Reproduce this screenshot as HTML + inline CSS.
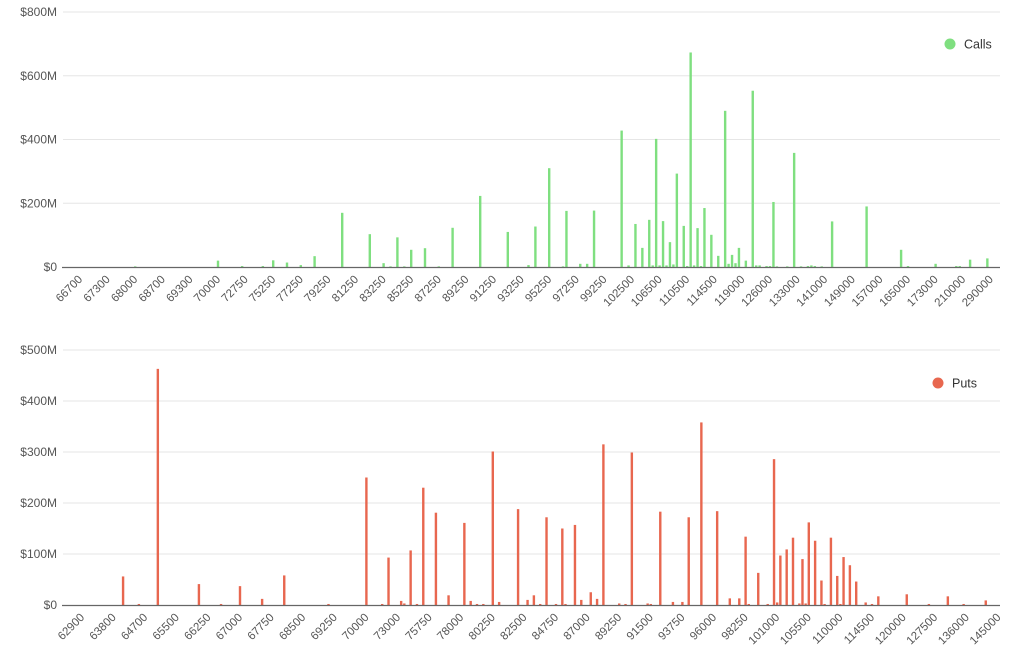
<!DOCTYPE html>
<html><head><meta charset="utf-8">
<style>
html,body{margin:0;padding:0;background:#fff;}
svg{display:block;font-family:"Liberation Sans",sans-serif;}
</style></head>
<body>
<svg id="chart" width="1024" height="660" viewBox="0 0 1024 660"></svg>
<script>
const callTickLabels=["66700","67300","68000","68700","69300","70000","72750","75250","77250","79250","81250","83250","85250","87250","89250","91250","93250","95250","97250","99250","102500","106500","110500","114500","119000","126000","133000","141000","149000","157000","165000","173000","210000","290000"];
const callStrikeIdx=[16,40,47,53,56,60,64,68,76,84,88,90,92,94,96,100,104,108,116,124,130,132,136,140,141,145,147,149,157,159,161,163,165,166,167,168,169,170,171,172,173,175,176,177,178,179,180,181,183,185,187,188,189,190,191,193,195,196,197,199,200,201,202,205,207,209,211,212,213,215,218,228,238,240,248,254,255,258,263];
const callValues=[2,20,3,3,21,14,6,34,170,103,12,2,93,2,54,59,2,123,223,110,6,127,310,2,176,10,10,177,428,5,135,60,148,5,402,5,144,5,78,8,293,129,3,673,5,122,3,185,101,35,490,10,38,12,60,20,553,5,5,3,3,204,2,2,358,2,3,5,3,2,143,190,54,3,10,3,3,23,27];
const putTickLabels=["62900","63800","64700","65500","66250","67000","67750","68500","69250","70000","73000","75750","78000","80250","82500","84750","87000","89250","91500","93750","96000","98250","101000","105500","110000","114500","120000","127500","136000","145000"];
const putStrikeIdx=[13,18,24,37,44,50,57,64,78,90,95,97,101,102,104,106,108,112,116,121,123,125,127,130,132,138,141,143,145,147,150,152,153,156,158,161,163,165,170,172,174,179,180,183,187,190,192,196,201,205,208,210,211,214,217,219,220,221,223,225,227,228,229,230,232,234,235,237,239,240,241,243,245,248,250,252,261,268,274,279,286];
const putValues=[56,2,463,41,2,37,12,58,2,250,2,93,8,3,107,2,230,181,19,161,8,2,2,301,6,188,10,19,2,172,2,150,2,157,10,25,12,315,3,2,299,3,2,183,6,6,172,358,184,13,13,134,2,63,2,286,5,97,109,132,3,90,3,162,126,48,2,132,57,2,94,78,46,5,2,17,21,2,17,2,9];
const callYTicks=[0,200,400,600,800];
const putYTicks=[0,100,200,300,400,500];

const NS="http://www.w3.org/2000/svg";
const svg=document.getElementById('chart');
function mk(tag,attrs,parent){const e=document.createElementNS(NS,tag);for(const k in attrs)e.setAttribute(k,attrs[k]);(parent||svg).appendChild(e);return e;}

function drawPanel(cfg){
  const g=mk('g',{});
  
  
  const y=v=>cfg.y0-(v/cfg.yMax)*(cfg.y0-cfg.yTop);
  const x=k=>cfg.x0+cfg.step*k;
  cfg.yTicks.forEach(t=>{
    if(t>0){const l=mk('line',{x1:63,x2:1000,y1:y(t),y2:y(t),stroke:'#e6e6e6','stroke-width':1},g);
      
      }
    const tx=mk('text',{x:57,y:y(t)+4,'text-anchor':'end','font-size':12,fill:'#555'},g);
    tx.textContent='$'+t+(t===0?'':'M');
    
    
  });
  cfg.idx.forEach((k,i)=>{
    const v=cfg.vals[i];
    const r=mk('rect',{x:x(k)-1.2,y:y(v),width:2.4,height:Math.max(0.5,cfg.y0-y(v)),fill:cfg.color},g);
    
    
  });
  const ax=mk('line',{x1:62,x2:1000,y1:cfg.y0+0.5,y2:cfg.y0+0.5,stroke:'#666','stroke-width':1.3},g);
  
  
  cfg.labels.forEach((lab,i)=>{
    const px=x(i*cfg.per)+3, py=cfg.y0+13;
    const t=mk('text',{x:px,y:py,'text-anchor':'end','font-size':11.5,fill:'#555',transform:`rotate(-45 ${px} ${py})`},g);
    t.textContent=lab;
    
    
  });
  const lg=mk('g',{},g);
  
  
  mk('circle',{cx:cfg.lx,cy:cfg.ly,r:5.5,fill:cfg.color},lg);
  const lt=mk('text',{x:cfg.lx+14,y:cfg.ly+4.5,'font-size':12.5,fill:'#333'},lg);
  lt.textContent=cfg.legendText;
}

drawPanel({name:'calls-chart',labels:callTickLabels,idx:callStrikeIdx,vals:callValues,yTicks:callYTicks,yMax:800,y0:267,yTop:12,x0:80,step:3.45,per:8,color:'#7fdf80',lx:950,ly:44,legendText:'Calls',legendName:'legend-calls'});
drawPanel({name:'puts-chart',labels:putTickLabels,idx:putStrikeIdx,vals:putValues,yTicks:putYTicks,yMax:500,y0:605,yTop:350,x0:82,step:3.16,per:10,color:'#e8674f',lx:938,ly:383,legendText:'Puts',legendName:'legend-puts'});
</script>
</body></html>
